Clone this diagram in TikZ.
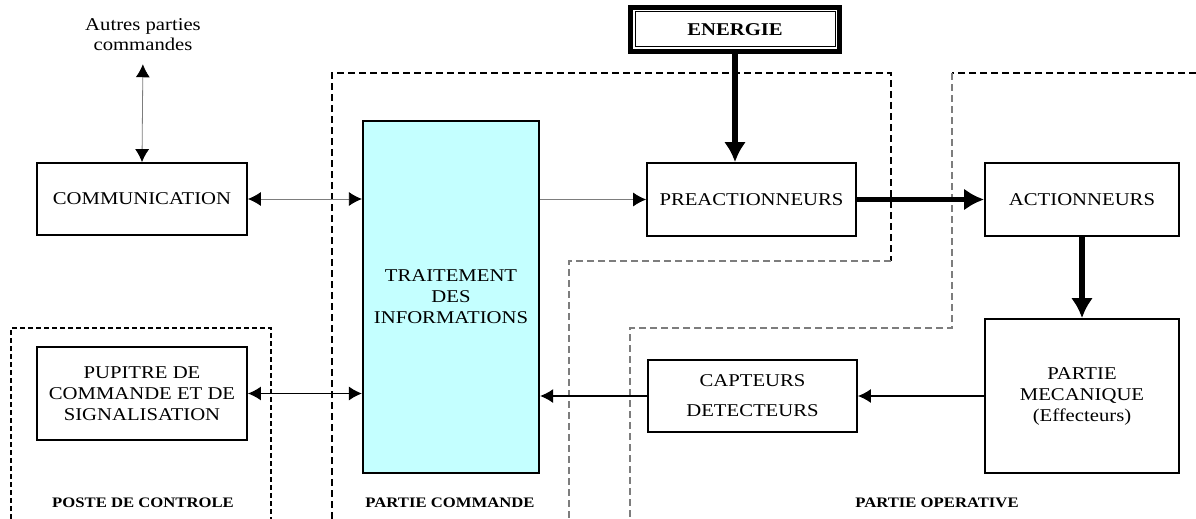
\documentclass[tikz,border=0pt]{standalone}
\usepackage{fontspec}
\setmainfont{Liberation Serif}[FakeStretch=1.15]
\usetikzlibrary{arrows.meta}
\definecolor{cyanfill}{RGB}{196,255,255}
\definecolor{dgray}{RGB}{125,125,125}
\begin{document}
\begin{tikzpicture}[x=1pt,y=-1pt,
  box/.style={draw, line width=1.8pt, align=center, inner sep=0pt, font=\fontsize{18}{21}\selectfont},
  lbl/.style={font=\bfseries\fontsize{14.5}{16}\selectfont, inner sep=0pt},
  greyarrow/.style={line width=0.8pt, draw=dgray},
  blackarrow/.style={line width=1.3pt, draw=black},
  thickarrow/.style={line width=5.5pt, -{Latex[length=20pt,width=22pt]}},
  blackdash/.style={line width=1.1pt, dash pattern=on 7pt off 4pt},
  greydash/.style={line width=1.1pt, draw=dgray, dash pattern=on 7pt off 4pt},
  postedash/.style={line width=2pt, dash pattern=on 5pt off 3pt}
]
\useasboundingbox (0,0) rectangle (1196,519);

% regions
\draw[blackdash] (332,519) -- (332,73) -- (891,73) -- (891,261);
\draw[greydash] (891,261) -- (569,261) -- (569,519);
\draw[blackdash] (1196,73) -- (952,73);
\draw[greydash] (952,73) -- (952,328) -- (630,328) -- (630,519);
\draw[postedash] (11,519) -- (11,328) -- (271,328) -- (271,519);

% nodes
\node[font=\fontsize{18}{20}\selectfont, align=center, inner sep=0pt] (autres) at (143,35) {Autres parties\\commandes};
\node[box, minimum width=210pt, minimum height=72pt] (comm) at (142,199) {COMMUNICATION};
\node[box, minimum width=210pt, minimum height=93pt] (pup) at (142,393.5) {PUPITRE DE\\COMMANDE ET DE\\SIGNALISATION};
\node[box, fill=cyanfill, line width=2.2pt, minimum width=176pt, minimum height=352pt] (trait) at (451,297) {TRAITEMENT\\DES\\INFORMATIONS};
\node[box, minimum width=209pt, minimum height=73pt] (preact) at (751.5,199.5) {PREACTIONNEURS};
\node[box, minimum width=194pt, minimum height=73pt] (act) at (1082,199.5) {ACTIONNEURS};
\node[box, minimum width=194pt, minimum height=154pt] (meca) at (1082,396) {PARTIE\\MECANIQUE\\(Effecteurs)};
\node[box, font=\fontsize{18}{30}\selectfont, minimum width=209pt, minimum height=72pt] (capt) at (752.5,396) {CAPTEURS\\DETECTEURS};
\node[draw, line width=1pt, minimum width=200pt, minimum height=35pt, inner sep=0pt, font=\bfseries\fontsize{18}{21}\selectfont] (en) at (735,29.5) {ENERGIE};
\draw[line width=5pt] ([shift={(-4pt,4pt)}]en.north west) rectangle ([shift={(4pt,-4pt)}]en.south east);

% labels
\node[lbl] (poste) at (143,503) {POSTE DE CONTROLE};
\node[lbl] (pcmd) at (450,503) {PARTIE COMMANDE};
\node[lbl] (pop) at (937,503) {PARTIE OPERATIVE};

% connectors
\draw[greyarrow, {Latex[length=13pt,width=14pt,color=black]}-{Latex[length=13pt,width=14pt,color=black]}, shorten >=13pt] (comm.north) -- (autres.south);
\draw[greyarrow, {Latex[length=13pt,width=14pt,color=black]}-{Latex[length=13pt,width=14pt,color=black]}] (comm.east) -- (comm.east -| trait.west);
\draw[greyarrow, -{Latex[length=13pt,width=14pt,color=black]}] (preact.west -| trait.east) -- (preact.west);
\draw[blackarrow, {Latex[length=13pt,width=14pt]}-{Latex[length=13pt,width=14pt]}] (pup.east) -- (pup.east -| trait.west);
\draw[blackarrow, -{Latex[length=13pt,width=14pt]}] (capt.west) -- (capt.west -| trait.east);
\draw[blackarrow, -{Latex[length=13pt,width=14pt]}] (meca.west) -- (meca.west -| capt.east);
\draw[thickarrow] ([yshift=-4pt]en.south) -- (en.south |- preact.north);
\draw[thickarrow] (preact.east) -- (act.west);
\draw[thickarrow] (act.south) -- (meca.north);
\end{tikzpicture}
\end{document}
